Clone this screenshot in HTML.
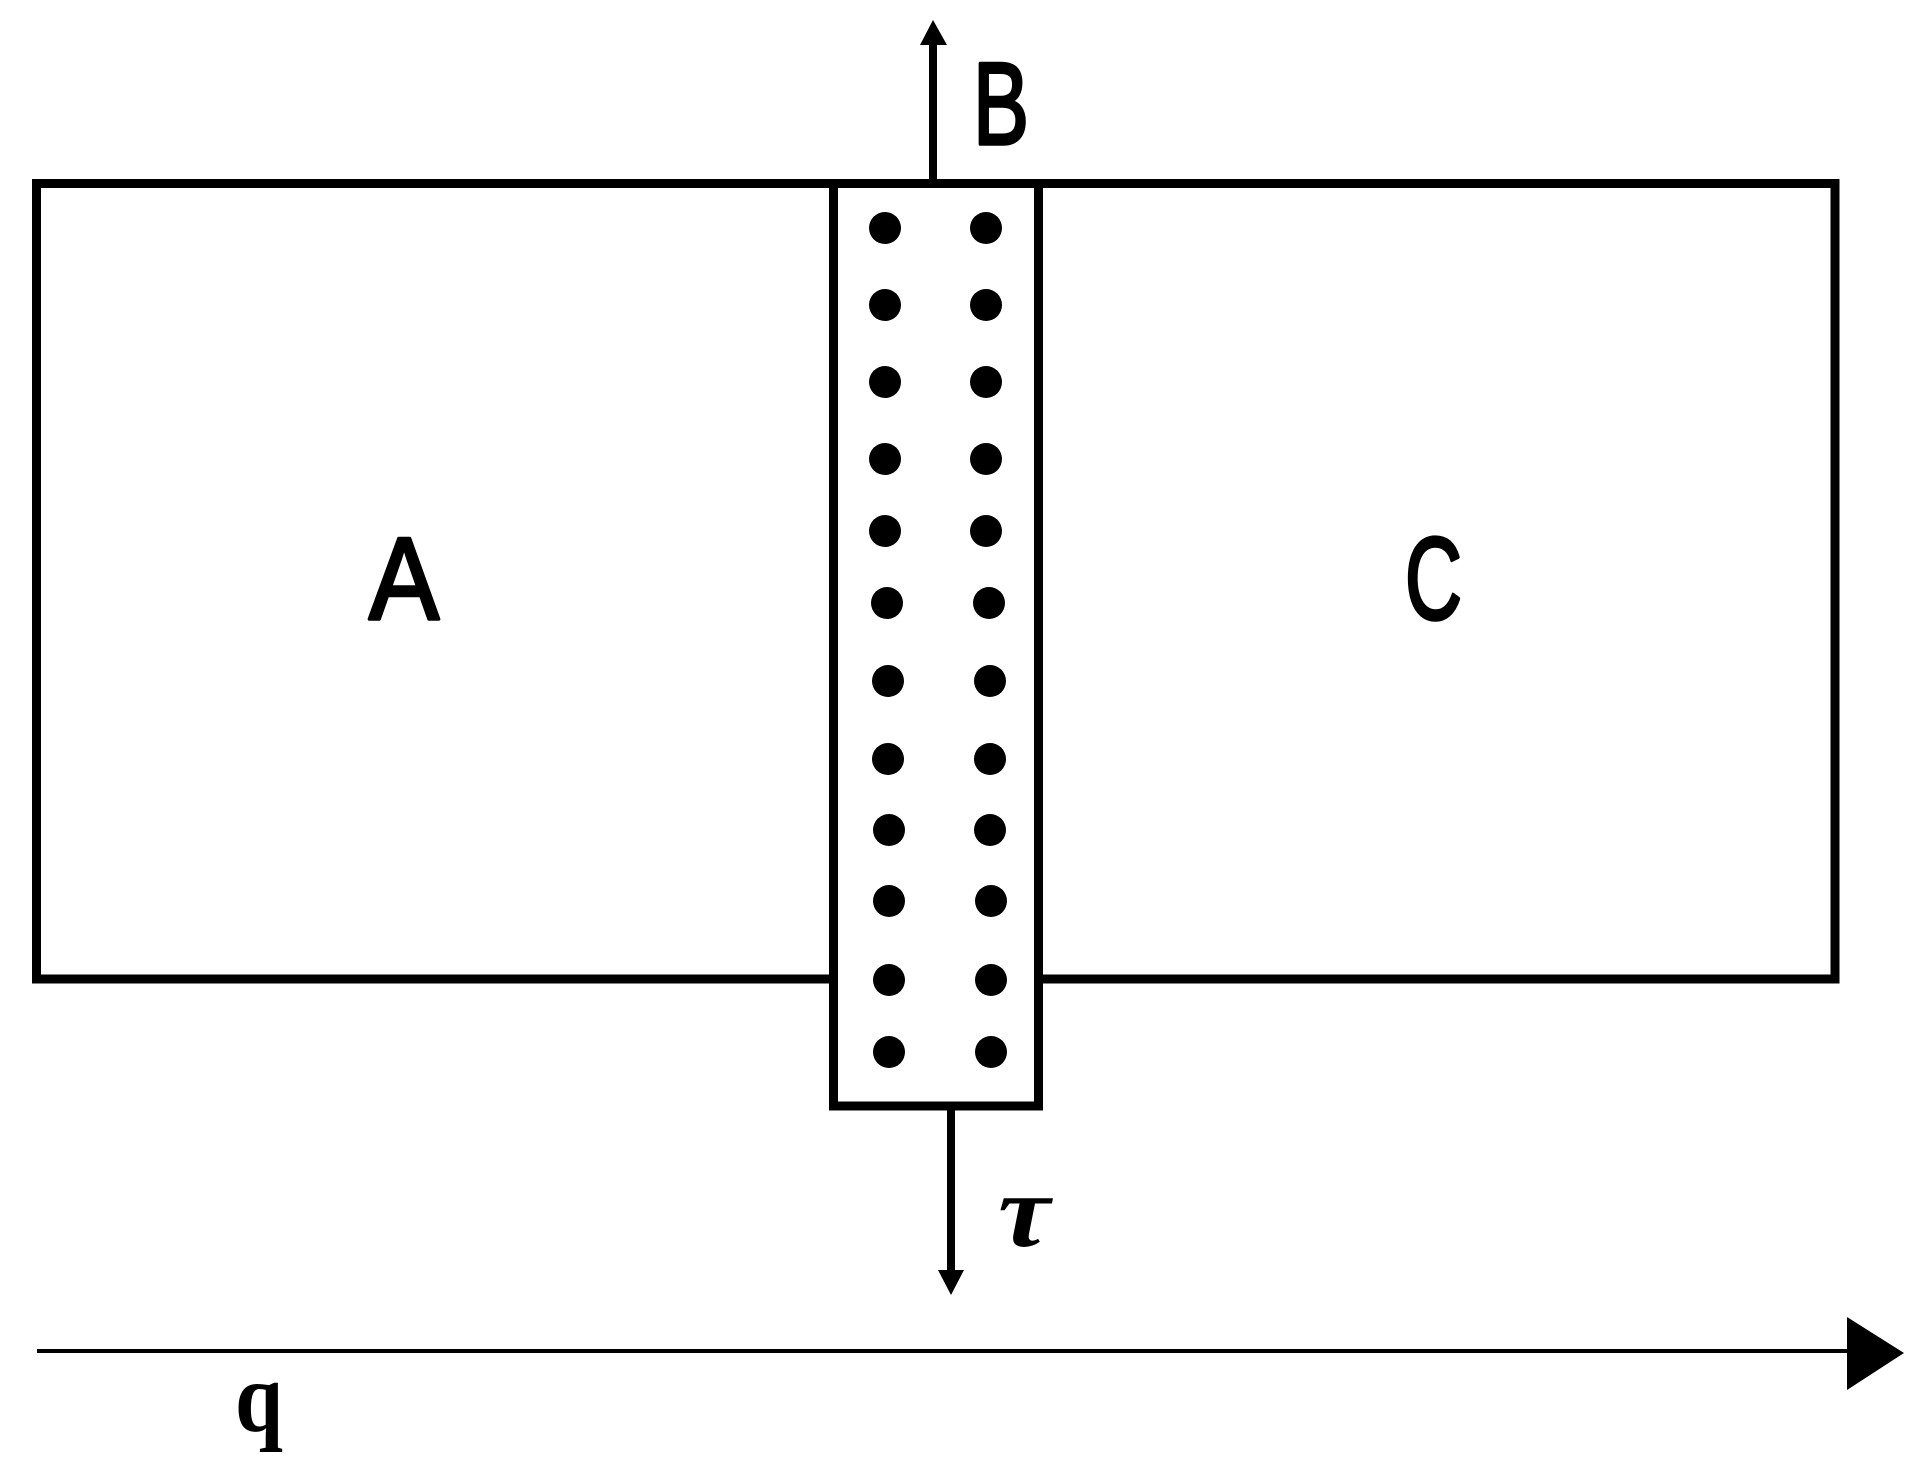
<!DOCTYPE html>
<html><head><meta charset="utf-8"><style>
html,body{margin:0;padding:0;background:#fff;}
svg{display:block;}
</style></head><body>
<svg width="1931" height="1472" viewBox="0 0 1931 1472" xmlns="http://www.w3.org/2000/svg">
<rect x="36.5" y="183.5" width="1798.5" height="795.5" fill="none" stroke="#000" stroke-width="9"/>
<rect x="833.5" y="183.5" width="205" height="922.5" fill="#fff" stroke="#000" stroke-width="9"/>
<line x1="36" y1="183.5" x2="1839" y2="183.5" stroke="#000" stroke-width="9"/>
<line x1="933" y1="180" x2="933" y2="40" stroke="#000" stroke-width="8"/>
<polygon points="920,45 947,45 933,20" fill="#000"/>
<line x1="951" y1="1108" x2="951" y2="1275" stroke="#000" stroke-width="8"/>
<polygon points="938,1270 964,1270 951,1295" fill="#000"/>
<line x1="37" y1="1351" x2="1850" y2="1351" stroke="#000" stroke-width="4"/>
<polygon points="1847,1317 1847,1390 1904,1353" fill="#000"/>
<g fill="#000">
<circle cx="885" cy="228" r="16"/><circle cx="986" cy="228" r="16"/>
<circle cx="885" cy="305" r="16"/><circle cx="986" cy="305" r="16"/>
<circle cx="885" cy="382" r="16"/><circle cx="986" cy="382" r="16"/>
<circle cx="885" cy="459" r="16"/><circle cx="986" cy="459" r="16"/>
<circle cx="885" cy="531" r="16"/><circle cx="986" cy="531" r="16"/>
<circle cx="887" cy="603" r="16"/><circle cx="989" cy="603" r="16"/>
<circle cx="888" cy="681" r="16"/><circle cx="990" cy="681" r="16"/>
<circle cx="888" cy="759" r="16"/><circle cx="990" cy="759" r="16"/>
<circle cx="889" cy="830" r="16"/><circle cx="990" cy="830" r="16"/>
<circle cx="889" cy="901" r="16"/><circle cx="991" cy="901" r="16"/>
<circle cx="889" cy="980" r="16"/><circle cx="991" cy="980" r="16"/>
<circle cx="889" cy="1052" r="16"/><circle cx="991" cy="1052" r="16"/>
</g>
<g font-family="'Liberation Sans', sans-serif" font-size="117" fill="#000" stroke="#000" stroke-width="3.5" stroke-linejoin="round">
<text x="369" y="619" textLength="70" lengthAdjust="spacingAndGlyphs">A</text>
<text x="1405" y="619" textLength="57" lengthAdjust="spacingAndGlyphs">C</text>
<text x="973" y="144" textLength="56" lengthAdjust="spacingAndGlyphs">B</text>
</g>
<text x="998" y="1246" font-family="'Liberation Serif', serif" font-size="104" font-weight="bold" font-style="italic" textLength="52" lengthAdjust="spacingAndGlyphs">τ</text>
<text x="235" y="1431" font-family="'Liberation Serif', serif" font-size="100" font-weight="bold" textLength="48" lengthAdjust="spacingAndGlyphs">q</text>
</svg>
</body></html>
